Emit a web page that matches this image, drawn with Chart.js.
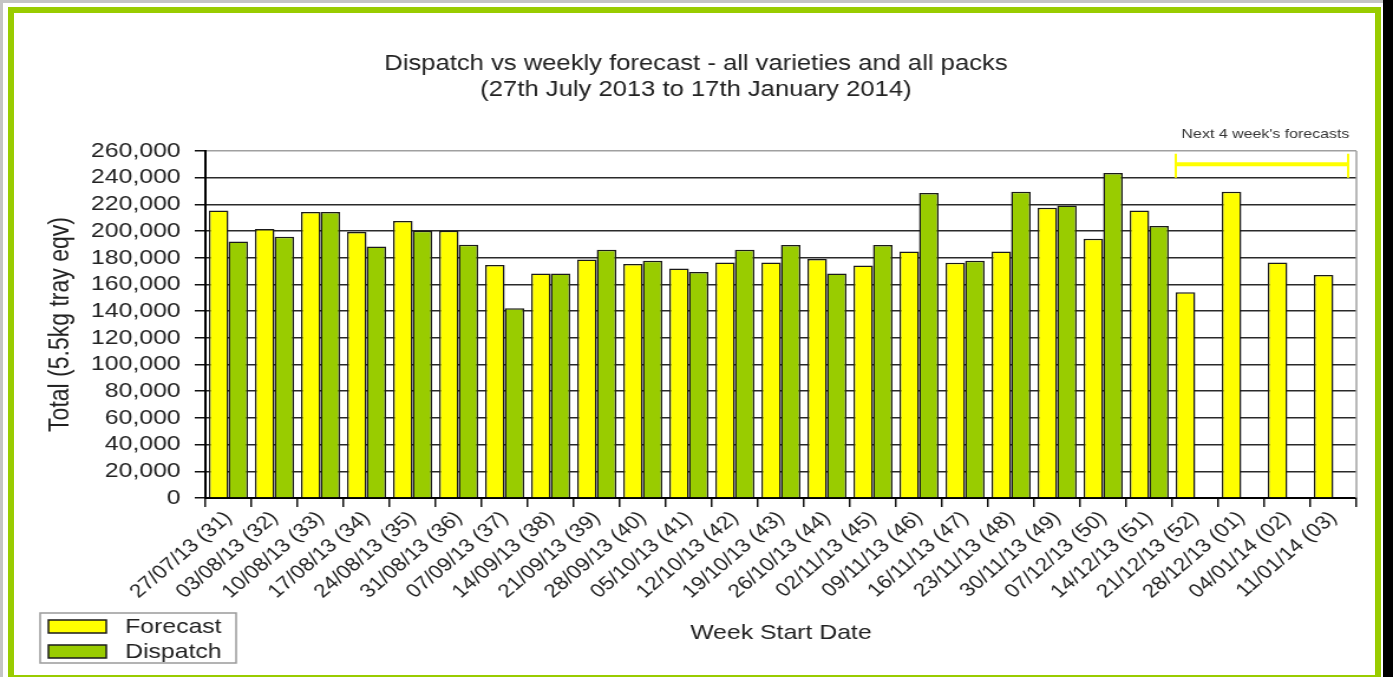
<!DOCTYPE html>
<html>
<head>
<meta charset="utf-8">
<title>Dispatch vs weekly forecast</title>
<script src="https://cdn.jsdelivr.net/npm/chart.js@4.4.0/dist/chart.umd.min.js"></script>
<style>
	html, body { margin: 0; padding: 0; background: #fff; overflow: hidden; }
	#page { position: relative; width: 1393px; height: 677px; }
	.stripTop { position: absolute; left: 0; top: 0; width: 1383px; height: 3px; background: #c4c4c4; }
	.stripLeft { position: absolute; left: 0; top: 0; width: 3px; height: 677px; background: #c4c4c4; }
	.frame { position: absolute; left: 8px; top: 7px; width: 1373px; height: 674px; box-sizing: border-box; border: 6px solid #99cc00; background: #fff; }
	.edge { position: absolute; left: 1383px; top: 0; width: 10px; height: 677px; background: #000; }
	/* the original picture is stretched sideways, so the canvas is too */
	#myChart { position: absolute; left: 0; top: 0; width: 1393px; height: 677px; }
</style>
</head>
<body>
<div id="page">
	<div class="stripTop"></div>
	<div class="stripLeft"></div>
	<div class="frame"></div>
	<div class="edge"></div>
	<canvas id="myChart" width="1180" height="677" style="width:1393px;height:677px"></canvas>
</div>
<script>
var weekLabels = [
	"27/07/13 (31)", "03/08/13 (32)", "10/08/13 (33)", "17/08/13 (34)", "24/08/13 (35)",
	"31/08/13 (36)", "07/09/13 (37)", "14/09/13 (38)", "21/09/13 (39)", "28/09/13 (40)",
	"05/10/13 (41)", "12/10/13 (42)", "19/10/13 (43)", "26/10/13 (44)", "02/11/13 (45)",
	"09/11/13 (46)", "16/11/13 (47)", "23/11/13 (48)", "30/11/13 (49)", "07/12/13 (50)",
	"14/12/13 (51)", "21/12/13 (52)", "28/12/13 (01)", "04/01/14 (02)", "11/01/14 (03)"
];
var forecastValues = [
	215500, 201500, 214250, 199250, 207500,
	200250, 174500, 168250, 178750, 175250,
	172000, 176500, 176500, 179000, 174250,
	184750, 176250, 184750, 217500, 194250,
	215500, 154250, 229500, 176500, 167000
];
var dispatchValues = [
	192250, 195750, 214250, 188500, 200250,
	189750, 142250, 168250, 186000, 177750,
	169250, 186000, 189500, 168250, 189500,
	228500, 177750, 229500, 219250, 243500,
	203750, null, null, null, null
];
var yMin = 0, yMax = 260000, yStep = 20000;
var forecastWeeks = [21, 24];   // first and last week of the "next 4 weeks" bracket
var bracketValue = 250000, bracketLow = 240000, bracketHigh = 258000;

var FONT = "'Liberation Sans', Arial, sans-serif";
var TEXT = "#222";
Chart.defaults.font.family = FONT;
Chart.defaults.color = TEXT;

// plot box, bracket and boxed legend of the original
var extras = {
	id: "extras",
	afterDraw: function(chart) {
		var ctx = chart.ctx, area = chart.chartArea;
		var x = chart.scales.x, y = chart.scales.y;
		ctx.save();
		ctx.strokeStyle = "#a0a0a0";
		ctx.lineWidth = 1.5;
		ctx.beginPath();
		ctx.moveTo(area.right, area.top);
		ctx.lineTo(area.right, area.bottom);
		ctx.stroke();

		// next 4 week's forecasts
		var half = (x.getPixelForValue(1) - x.getPixelForValue(0)) / 2;
		var bx0 = x.getPixelForValue(forecastWeeks[0]) - half + 3;
		var bx1 = x.getPixelForValue(forecastWeeks[1]) + half - 7;
		var by = y.getPixelForValue(bracketValue);
		ctx.strokeStyle = "#ffff00";
		ctx.lineWidth = 4;
		ctx.beginPath();
		ctx.moveTo(bx0, by);
		ctx.lineTo(bx1, by);
		ctx.stroke();
		ctx.lineWidth = 2;
		ctx.beginPath();
		ctx.moveTo(bx0, y.getPixelForValue(bracketLow));
		ctx.lineTo(bx0, y.getPixelForValue(bracketHigh));
		ctx.moveTo(bx1, y.getPixelForValue(bracketLow));
		ctx.lineTo(bx1, y.getPixelForValue(bracketHigh));
		ctx.stroke();
		ctx.fillStyle = "#333";
		ctx.font = "13.5px " + FONT;
		ctx.textAlign = "right";
		ctx.textBaseline = "middle";
		ctx.fillText("Next 4 week's forecasts", bx1 + 1, area.top - 17);

		// legend
		var lx = 34, ly = 613, lw = 166, lh = 50;
		ctx.strokeStyle = "#9a9a9a";
		ctx.lineWidth = 1.5;
		ctx.strokeRect(lx, ly, lw, lh);
		var sets = chart.data.datasets;
		for (var i = 0; i < sets.length; i++) {
			var sy = ly + 7 + i * 25;
			ctx.fillStyle = sets[i].backgroundColor;
			ctx.fillRect(lx + 7, sy, 49, 13);
			ctx.strokeStyle = "#1a1a1a";
			ctx.lineWidth = 1.5;
			ctx.strokeRect(lx + 7, sy, 49, 13);
			ctx.fillStyle = TEXT;
			ctx.font = "21px " + FONT;
			ctx.textAlign = "left";
			ctx.fillText(sets[i].label, lx + 72, sy + 7);
		}
		ctx.restore();
	}
};

var ctx = document.getElementById("myChart").getContext("2d");
var chart = new Chart(ctx, {
	type: "bar",
	data: {
		labels: weekLabels,
		datasets: [
			{ label: "Forecast", data: forecastValues, backgroundColor: "#ffff00", borderColor: "#1a1a1a", borderWidth: 1.5 },
			{ label: "Dispatch", data: dispatchValues, backgroundColor: "#99cc00", borderColor: "#1a1a1a", borderWidth: 1.5 }
		]
	},
	options: {
		responsive: false,
		animation: false,
		layout: { padding: { left: 30, right: 31, top: 0, bottom: 20 } },
		datasets: { bar: { barPercentage: 1.0, categoryPercentage: 0.85 } },
		plugins: {
			legend: { display: false },
			tooltip: { enabled: false },
			title: {
				display: true,
				text: ["Dispatch vs weekly forecast - all varieties and all packs", "(27th July 2013 to 17th January 2014)"],
				font: { size: 21.7, weight: "normal", lineHeight: 26 / 21.7 },
				color: TEXT,
				padding: { top: 51, bottom: 48 }
			}
		},
		scales: {
			x: {
				grid: { display: true, drawOnChartArea: false, offset: true, tickLength: 9, tickColor: "#111", lineWidth: 1.5 },
				border: { color: "#000", width: 2 },
				ticks: { autoSkip: false, maxRotation: 45, minRotation: 45, padding: 0, font: { size: 19 }, color: TEXT },
				title: { display: true, text: "Week Start Date", font: { size: 21 }, color: TEXT, padding: { top: 0, bottom: 11 } },
				afterFit: function(scale) { scale.height = 677 - 20 - 498; }
			},
			y: {
				min: yMin,
				max: yMax,
				grid: {
					color: function(c) { return c.tick && c.tick.value === yMax ? "#a0a0a0" : "#2a2a2a"; },
					lineWidth: 1.5,
					tickLength: 9,
					tickColor: "#111"
				},
				border: { color: "#000", width: 2 },
				ticks: {
					stepSize: yStep,
					autoSkip: false,
					maxTicksLimit: 20,
					padding: 12,
					font: { size: 21 },
					color: TEXT,
					callback: function(v) { return v.toLocaleString("en-US"); }
				},
				title: { display: true, text: "Total (5.5kg tray eqv)", font: { size: 23 }, color: TEXT, padding: { top: 8, bottom: 0 } },
				afterFit: function(scale) { scale.width = 144; }
			}
		}
	},
	plugins: [extras]
});
</script>
</body>
</html>
